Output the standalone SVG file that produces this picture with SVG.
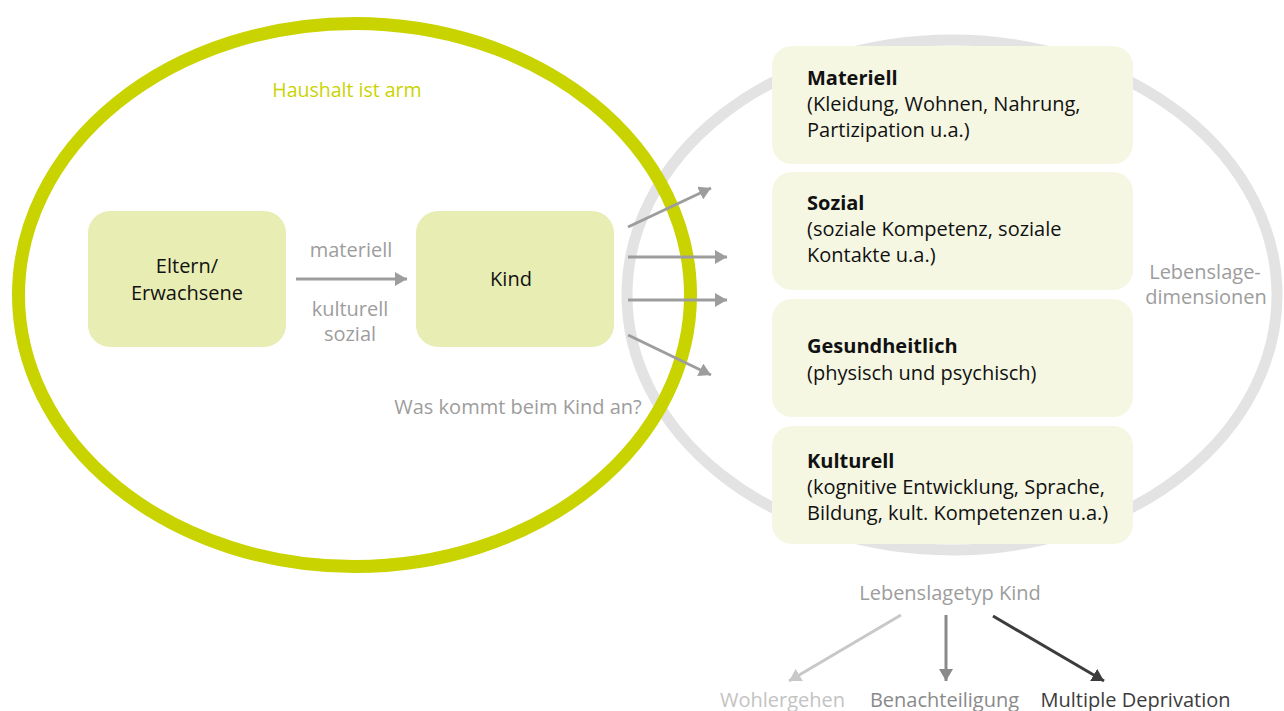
<svg xmlns="http://www.w3.org/2000/svg" width="1284" height="711" viewBox="0 0 1284 711">
<style>
text{font-family:"Open Sans","Noto Sans","DejaVu Sans",sans-serif;}
.lbl{font-size:20px;fill:#9d9d9d;text-anchor:middle;}
.node{font-size:20px;fill:#111;text-anchor:middle;}
.dim{font-size:20px;fill:#111;}
.b{font-weight:bold;}
.inner{fill:#e8edb3;}
.dbox{fill:#f5f7e3;}
.arr{stroke:#9d9d9d;stroke-width:3;fill:none;}
</style>
<defs>
<marker id="ah" viewBox="0 0 12 14" refX="12" refY="7" markerWidth="12" markerHeight="14" markerUnits="userSpaceOnUse" orient="auto"><path d="M0,0 L12,7 L0,14 Z" fill="#9d9d9d"/></marker>
<marker id="ahL" viewBox="0 0 12 14" refX="12" refY="7" markerWidth="12" markerHeight="14" markerUnits="userSpaceOnUse" orient="auto"><path d="M0,0 L12,7 L0,14 Z" fill="#c8c8c8"/></marker>
<marker id="ahM" viewBox="0 0 12 14" refX="12" refY="7" markerWidth="12" markerHeight="14" markerUnits="userSpaceOnUse" orient="auto"><path d="M0,0 L12,7 L0,14 Z" fill="#8a8a8a"/></marker>
<marker id="ahD" viewBox="0 0 12 14" refX="12" refY="7" markerWidth="12" markerHeight="14" markerUnits="userSpaceOnUse" orient="auto"><path d="M0,0 L12,7 L0,14 Z" fill="#3c3c3c"/></marker>
</defs>
<rect width="1284" height="711" fill="#fff"/>
<g id="lebenslage-ring">
<ellipse cx="952" cy="295" rx="325" ry="255" fill="none" stroke="#e2e3e2" stroke-width="11"/>
</g>
<g id="haushalt-ring">
<ellipse cx="354.5" cy="295" rx="336" ry="271.5" fill="none" stroke="#c9d300" stroke-width="13"/>
<text x="347" y="97" font-size="19.5" fill="#c9d300" text-anchor="middle">Haushalt ist arm</text>
</g>
<g id="eltern">
<rect class="inner" x="88" y="211" width="198" height="136" rx="22"/>
<text class="node" x="187" y="273">Eltern/</text>
<text class="node" x="187" y="300">Erwachsene</text>
</g>
<g id="kind">
<rect class="inner" x="416" y="211" width="198" height="136" rx="22"/>
<text class="node" x="511" y="286">Kind</text>
</g>
<g id="materiell">
<rect class="dbox" x="772" y="46" width="361" height="118" rx="20"/>
<text class="dim b" x="807" y="85">Materiell</text>
<text class="dim" x="807" y="111">(Kleidung, Wohnen, Nahrung,</text>
<text class="dim" x="807" y="137">Partizipation u.a.)</text>
</g>
<g id="sozial">
<rect class="dbox" x="772" y="172" width="361" height="118" rx="20"/>
<text class="dim b" x="807" y="210">Sozial</text>
<text class="dim" x="807" y="236">(soziale Kompetenz, soziale</text>
<text class="dim" x="807" y="262">Kontakte u.a.)</text>
</g>
<g id="gesundheitlich">
<rect class="dbox" x="772" y="299" width="361" height="118" rx="20"/>
<text class="dim b" x="807" y="353">Gesundheitlich</text>
<text class="dim" x="807" y="380">(physisch und psychisch)</text>
</g>
<g id="kulturell">
<rect class="dbox" x="772" y="426" width="361" height="118" rx="20"/>
<text class="dim b" x="807" y="468">Kulturell</text>
<text class="dim" x="807" y="494">(kognitive Entwicklung, Sprache,</text>
<text class="dim" x="807" y="520">Bildung, kult. Kompetenzen u.a.)</text>
</g>
<g id="labels">
<text class="lbl" x="351" y="257">materiell</text>
<text class="lbl" x="350" y="316">kulturell</text>
<text class="lbl" x="350" y="341">sozial</text>
<text class="lbl" x="518" y="414">Was kommt beim Kind an?</text>
<text class="lbl" x="1205" y="279">Lebenslage-</text>
<text class="lbl" x="1206" y="304">dimensionen</text>
<text class="lbl" x="950" y="600">Lebenslagetyp Kind</text>
</g>
<g id="lebenslagetyp">
<text x="782.5" y="707" font-size="20" fill="#c3c3c3" text-anchor="middle">Wohlergehen</text>
<text x="944.5" y="707" font-size="20" fill="#8a8a8a" text-anchor="middle">Benachteiligung</text>
<text x="1135.5" y="707" font-size="20" fill="#3c3c3c" text-anchor="middle">Multiple Deprivation</text>
</g>
<g id="connectors">
<line class="arr" x1="296" y1="279" x2="407" y2="279" marker-end="url(#ah)"/>
<line class="arr" x1="628" y1="227" x2="711" y2="188" marker-end="url(#ah)"/>
<line class="arr" x1="628" y1="257" x2="727" y2="257" marker-end="url(#ah)"/>
<line class="arr" x1="628" y1="300" x2="727" y2="300" marker-end="url(#ah)"/>
<line class="arr" x1="628" y1="335" x2="711" y2="375" marker-end="url(#ah)"/>
<line x1="901" y1="615" x2="789" y2="681" stroke="#c8c8c8" stroke-width="3" marker-end="url(#ahL)"/>
<line x1="946" y1="615" x2="946" y2="681" stroke="#8a8a8a" stroke-width="3" marker-end="url(#ahM)"/>
<line x1="993" y1="616" x2="1104" y2="681" stroke="#3c3c3c" stroke-width="3" marker-end="url(#ahD)"/>
</g>
</svg>
